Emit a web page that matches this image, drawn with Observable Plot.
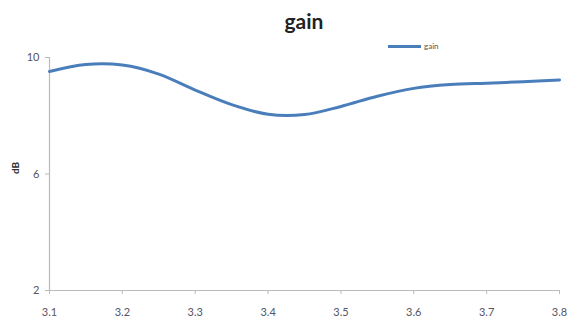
<!DOCTYPE html>
<html>
<head>
<meta charset="utf-8">
<script src="https://cdn.jsdelivr.net/npm/d3@7"></script>
<script src="https://cdn.jsdelivr.net/npm/@observablehq/plot@0.6"></script>
<style>
  html, body { margin: 0; padding: 0; background: #fff; }
  #wrap { position: relative; width: 569px; height: 329px; font-family: Lato, "Open Sans", sans-serif; }
  #title { position: absolute; left: 0; width: 608px; top: 8px; text-align: center; font-size: 21px; font-weight: bold; color: #222; }
  #legend { position: absolute; left: 388px; top: 41px; font-size: 8px; color: #555; display: flex; align-items: center; }
  #legend .sw { width: 33px; height: 3px; background: #4a7ebb; margin-right: 3px; }
</style>
</head>
<body>
<div id="wrap">
  <div id="title"></div>
  <div id="legend"><span class="sw"></span><span id="legtext"></span></div>
  <div id="chart"></div>
</div>
<script>
const title = "gain";
const seriesName = "gain";
const yLabel = "dB";
const freq = [3.1, 3.15, 3.2, 3.25, 3.3, 3.35, 3.4, 3.45, 3.5, 3.55, 3.6, 3.65, 3.7, 3.75, 3.8];
const gain = [9.52, 9.76, 9.74, 9.43, 8.88, 8.38, 8.05, 8.04, 8.32, 8.67, 8.94, 9.07, 9.12, 9.17, 9.23];
const xTicks = [3.1, 3.2, 3.3, 3.4, 3.5, 3.6, 3.7, 3.8];
const yTicks = [2, 6, 10];

document.getElementById("title").textContent = title;
document.getElementById("legtext").textContent = seriesName;

const data = freq.map((f, i) => ({f, g: gain[i]}));

const chart = Plot.plot({
  width: 569,
  height: 329,
  marginLeft: 49,
  marginRight: 10,
  marginTop: 57,
  marginBottom: 39,
  style: {fontFamily: "Lato, 'Open Sans', sans-serif", background: "transparent"},
  x: {domain: [3.1, 3.8]},
  y: {domain: [2, 10]},
  marks: [
    Plot.ruleX([3.1], {stroke: "#bbb", strokeWidth: 1.2}),
    Plot.ruleY([2], {stroke: "#bbb", strokeWidth: 1.2}),
    Plot.axisX({ticks: xTicks, tickFormat: d => d.toFixed(1), tickSize: 4, tickPadding: 14, stroke: "#bbb", fontSize: 11, color: "#556", label: null}),
    Plot.axisY({ticks: yTicks, tickSize: 4, tickPadding: 6, stroke: "#bbb", fontSize: 11, color: "#555", label: null}),
    Plot.text([yLabel], {frameAnchor: "left", dx: -34, rotate: -90, fontWeight: "bold", fontSize: 10, fill: "#333"}),
    Plot.line(data, {x: "f", y: "g", curve: "catmull-rom", stroke: "#4a7ebb", strokeWidth: 3})
  ]
});
document.getElementById("chart").appendChild(chart);
</script>
</body>
</html>
